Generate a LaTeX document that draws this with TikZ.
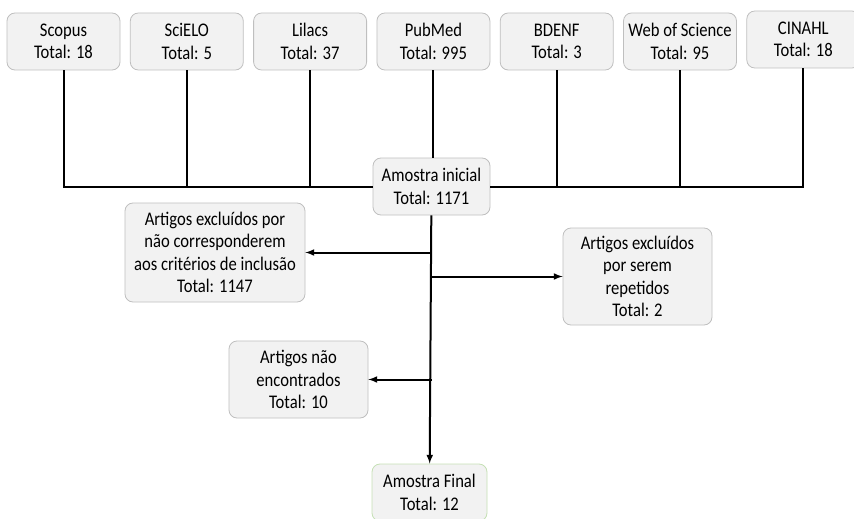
\documentclass[tikz,border=0pt]{standalone}
\usepackage{fontspec}
\setmainfont{Carlito}[FakeStretch=0.86]
\usetikzlibrary{arrows,positioning}
\definecolor{cinza}{HTML}{BFBFBF}
\definecolor{fundo}{HTML}{F2F2F2}
\definecolor{verde}{HTML}{C5E0B4}

\begin{document}
\begin{tikzpicture}[x=1pt,y=-1pt,>=latex,line width=2pt,node distance=123.3pt]
  \tikzstyle{caixa}=[draw=cinza,fill=fundo,rounded corners=8pt,line width=0.8pt,
    align=center,inner sep=2pt,font=\fontsize{19.3}{22.5}\selectfont]
  \tikzstyle{base}=[caixa,minimum width=113pt,minimum height=57pt]
  \tikzstyle{seta}=[->,shorten >=0pt]
  \useasboundingbox (0,0) rectangle (854,519);

  % bases de dados
  \node[base] (scopus) at (63.5,41.5) {Scopus\\Total: 18};
  \node[base] (scielo) [right of=scopus] {SciELO\\Total: 5};
  \node[base] (lilacs) [right of=scielo] {Lilacs\\Total: 37};
  \node[base] (pubmed) [right of=lilacs] {PubMed\\Total: 995};
  \node[base] (bdenf)  [right of=pubmed] {BDENF\\Total: 3};
  \node[base] (wos)    [right of=bdenf]  {Web of Science\\Total: 95};
  \node[base] (cinahl) [right of=wos,yshift=2pt] {CINAHL\\Total: 18};

  \node[base,minimum width=117pt] (inicial) at (431.5,186.5) {Amostra inicial\\Total: 1171};
  \node[caixa,minimum width=180pt,minimum height=99pt] (exclcrit) at (215,252.5)
    {Artigos excluídos por\\não corresponderem\\aos critérios de inclusão\\Total: 1147};
  \node[caixa,minimum width=149pt,minimum height=97pt] (exclrep) at (637.5,276.5)
    {Artigos excluídos\\por serem\\repetidos\\Total: 2};
  \node[caixa,minimum width=139pt,minimum height=77pt] (naoenc) at (298.5,379.5)
    {Artigos não\\encontrados\\Total: 10};
  \node[base,draw=verde,minimum width=115pt] (final) at (429.5,492.5) {Amostra Final\\Total: 12};

  % ligações
  \draw (scopus) |- (inicial);
  \draw (cinahl) |- (inicial);
  \draw (scielo) -- (scielo |- inicial);
  \draw (lilacs) -- (lilacs |- inicial);
  \draw (pubmed) -- (pubmed |- inicial.north);
  \draw (bdenf)  -- (bdenf |- inicial);
  \draw (wos)    -- (wos |- inicial);

  \draw[seta] (inicial) -- (final);
  \draw[seta] (inicial |- exclcrit) -- (exclcrit);
  \draw[seta] (inicial |- exclrep) -- (exclrep);
  \draw[seta] (inicial |- naoenc) -- (naoenc);
\end{tikzpicture}
\end{document}
